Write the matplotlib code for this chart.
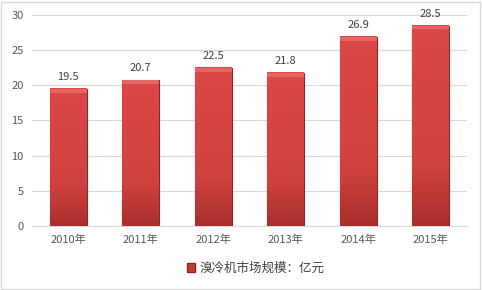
import numpy as np
import matplotlib.pyplot as plt
from matplotlib.colors import LinearSegmentedColormap
from matplotlib.patches import Rectangle

plt.rcParams['font.family'] = ['Noto Sans CJK SC', 'DejaVu Sans']

years = ['2010年', '2011年', '2012年', '2013年', '2014年', '2015年']
values = [19.5, 20.7, 22.5, 21.8, 26.9, 28.5]
legend_label = '溴冷机市场规模：亿元'

fig = plt.figure(figsize=(4.82, 2.9), dpi=100)
ax = fig.add_axes([0.066, 0.221, 0.903, 0.727])

x = np.arange(len(years))
bars = ax.bar(x, values, width=0.51, color='#D64440', edgecolor='#8E2424',
              linewidth=0.8, label=legend_label, zorder=3)

# shading: slightly darker toward the bottom, lighter bevel on top
cmap = LinearSegmentedColormap.from_list(
    'r', [(0, '#A92F2C'), (0.3, '#D04240'), (1, '#DB4847')])
for b in bars:
    bx, bw, bh = b.get_x(), b.get_width(), b.get_height()
    grad = np.linspace(0, 1, 100).reshape(-1, 1)
    ax.imshow(grad, extent=(bx, bx + bw, 0, bh), origin='lower', cmap=cmap,
              aspect='auto', zorder=3.5, clip_path=b)
    ax.add_patch(Rectangle((bx, bh - 0.55), bw, 0.55, color='#E66461',
                           zorder=4, linewidth=0))

for xi, v in zip(x, values):
    ax.annotate(f'{v}', (xi, v), xytext=(0, 5), textcoords='offset points',
                ha='center', va='bottom', fontsize=8, color='#404040')

ax.set_xlim(-0.5, len(years) - 0.5)
ax.set_ylim(0, 30)
ax.set_yticks(range(0, 31, 5))
ax.set_xticks(x)
ax.set_xticklabels(years)
ax.tick_params(axis='both', length=0, labelsize=8, colors='#595959', pad=6)
ax.yaxis.grid(True, color='#D9D9D9', linewidth=0.8, zorder=0)
for s in ['top', 'right', 'left']:
    ax.spines[s].set_visible(False)
ax.spines['bottom'].set_color('#D9D9D9')

fig.legend(handles=[Rectangle((0, 0), 1, 1, facecolor='#C83A37', edgecolor='#8E2424')],
           labels=[legend_label], loc='center', bbox_to_anchor=(0.53, 0.075),
           frameon=False, fontsize=9, handlelength=0.7, handleheight=0.7,
           handletextpad=0.3, labelcolor='#404040')

fig.patches.append(Rectangle((0.002, 0.004), 0.994, 0.99, transform=fig.transFigure,
                             fill=False, edgecolor='#D9D9D9', linewidth=1))

fig.savefig('out.png', dpi=100)
